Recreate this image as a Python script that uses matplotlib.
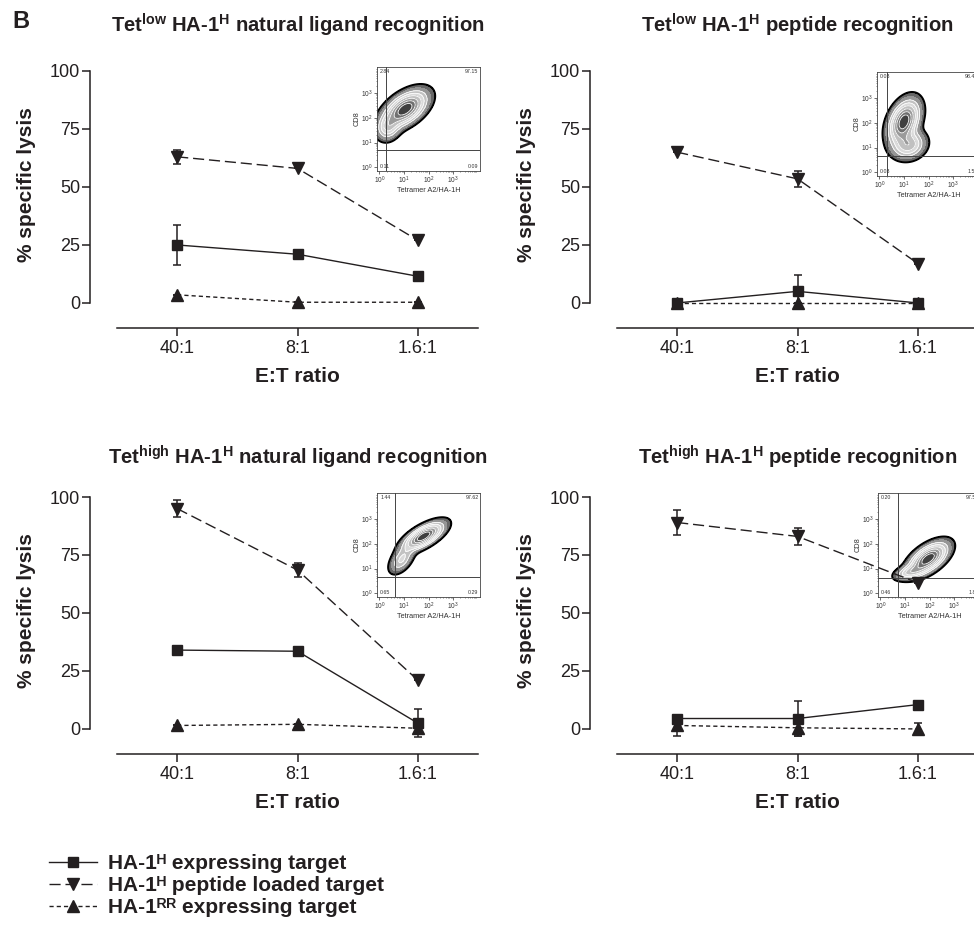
import numpy as np
import matplotlib
matplotlib.use("Agg")
import matplotlib.pyplot as plt
from matplotlib.lines import Line2D

plt.rcParams['font.family'] = ['Liberation Sans', 'DejaVu Sans']
plt.rcParams['mathtext.fontset'] = 'custom'
plt.rcParams['mathtext.rm'] = 'Liberation Sans'
plt.rcParams['mathtext.bf'] = 'Liberation Sans:bold'
plt.rcParams['mathtext.it'] = 'Liberation Sans:italic'
plt.rcParams['lines.scale_dashes'] = False

INK = '#231f20'

# ---- data ----
ratios = ["40:1", "8:1", "1.6:1"]
titles = [r"Tet$^{\mathbf{low}}$ HA-1$^{\mathbf{H}}$ natural ligand recognition",
          r"Tet$^{\mathbf{low}}$ HA-1$^{\mathbf{H}}$ peptide recognition",
          r"Tet$^{\mathbf{high}}$ HA-1$^{\mathbf{H}}$ natural ligand recognition",
          r"Tet$^{\mathbf{high}}$ HA-1$^{\mathbf{H}}$ peptide recognition"]

expr_mean = [[25, 21, 11.5], [0, 5, 0], [34, 33.5, 2.5], [4.5, 4.5, 10.5]]
expr_err = [[8.5, 0, 0], [0, 7, 0], [0, 2, 6], [1.5, 7.5, 0]]
pept_mean = [[63, 58, 27], [65, 53.5, 17], [95, 68.5, 21], [89, 83, 63]]
pept_err = [[3, 0, 0], [0, 3.5, 0], [3.5, 3, 0], [5.5, 3.5, 0]]
rr_mean = [[3.5, 0.3, 0.3], [0, 0, 0], [1.5, 2, 0.3], [1.5, 0.5, 0]]
rr_err = [[0, 0, 0], [0, 0, 0], [0, 0, 0], [4.5, 3.5, 2.7]]

legend_labels = ["HA-1\u1d34 expressing target",
                 "HA-1\u1d34 peptide loaded target",
                 "HA-1\u1d3f\u1d3f expressing target"]

# flow inset: quadrant percentages (UL, UR, LL, LR) and gate positions (log units)
quad_pct = [["2.84", "97.15", "0.11", "0.09"],
            ["0.03", "98.41", "0.03", "1.53"],
            ["1.44", "97.62", "0.65", "0.29"],
            ["0.20", "97.53", "0.46", "1.81"]]
gate_x = [0.27, 0.3, 0.65, 0.72]
gate_y = [0.7, 0.65, 0.65, 0.62]
# population shapes: (cx, cy, major, minor, angle, weight)
blobs = [[(1.05, 2.35, 0.55, 0.3, 35, 1.0), (0.35, 1.6, 0.3, 0.25, 60, 0.35)],
         [(1.0, 2.05, 0.5, 0.3, 65, 1.0), (1.2, 1.1, 0.38, 0.3, 20, 0.5)],
         [(1.8, 2.3, 0.5, 0.2, 30, 1.0), (0.9, 1.35, 0.35, 0.2, 50, 0.3)],
         [(1.95, 1.4, 0.5, 0.25, 35, 1.0), (1.2, 0.85, 0.35, 0.15, 15, 0.35)]]

W, H = 974, 925
PT = 72 / 100  # points per pixel
fig = plt.figure(figsize=(W / 100, H / 100), dpi=100)


def fx(p):
    return p / W


def fy(p):
    return 1 - p / H


styles = [dict(ls='-', marker='s', ms=7.2),
          dict(ls=(0, (8, 3.5)), marker='v', ms=8),
          dict(ls=(0, (3, 2.2)), marker='^', ms=8)]


def draw_panel(ax, i):
    x = np.arange(len(ratios))
    for st, m, e in zip(styles, [expr_mean[i], pept_mean[i], rr_mean[i]],
                        [expr_err[i], pept_err[i], rr_err[i]]):
        ax.errorbar(x, m, yerr=e, fmt='none', ecolor=INK, elinewidth=1.1,
                    capsize=2.7, capthick=1.1, clip_on=False, zorder=3)
        ax.plot(x, m, color=INK, lw=1.0, linestyle=st['ls'], marker=st['marker'],
                ms=st['ms'], mfc=INK, mec=INK, clip_on=False, zorder=4)
    ax.set_xlim(-0.5, 2.5)
    ax.set_ylim(-10.8, 100)
    ax.set_facecolor('none')
    for s in ['top', 'right']:
        ax.spines[s].set_visible(False)
    ax.spines['left'].set_position(('outward', 27 * PT))
    ax.spines['left'].set_bounds(0, 100)
    for s in ['left', 'bottom']:
        ax.spines[s].set_color(INK)
        ax.spines[s].set_linewidth(1.1)
    ax.set_yticks([0, 25, 50, 75, 100])
    ax.set_xticks(x, ratios)
    ax.tick_params(axis='y', length=8 * PT, width=1.1, labelsize=13, pad=2 * PT, colors=INK)
    ax.tick_params(axis='x', length=8 * PT, width=1.1, labelsize=13, pad=4 * PT, colors=INK)
    ax.set_ylabel("% specific lysis", fontsize=15, fontweight='bold', color=INK, va='center')
    ax.yaxis.set_label_coords(-0.25, 0.56)
    ax.set_xlabel("E:T ratio", fontsize=15, fontweight='bold', color=INK)
    ax.xaxis.set_label_coords(0.5, -0.15)


def draw_inset(rect, i):
    ins = fig.add_axes(rect, zorder=1)
    ins.set_facecolor('none')
    gx = np.linspace(-0.1, 4.1, 300)
    gy = np.linspace(-0.15, 4.05, 300)
    X, Y = np.meshgrid(gx, gy)
    Z = np.zeros_like(X)
    for cx, cy, a, b, ang, w in blobs[i]:
        t = np.deg2rad(ang)
        u = (X - cx) * np.cos(t) + (Y - cy) * np.sin(t)
        v = -(X - cx) * np.sin(t) + (Y - cy) * np.cos(t)
        Z += w * np.exp(-0.5 * ((u / a) ** 2 + (v / b) ** 2))
    Z /= Z.max()
    lev = [0.04, 0.055, 0.1, 0.18, 0.28, 0.4, 0.55, 0.7, 0.85, 1.01]
    cols = ['#151515', '#666666', '#959595', '#c2c2c2', '#dadada',
            '#c0c0c0', '#9a9a9a', '#707070', '#404040']
    ins.contourf(X, Y, Z, levels=lev, colors=cols)
    ins.contour(X, Y, Z, levels=lev[3:-1], colors='white', linewidths=0.6)
    ins.contour(X, Y, Z, levels=[0.04], colors='black', linewidths=1.4)
    ins.axvline(gate_x[i], color='#444444', lw=0.7)
    ins.axhline(gate_y[i], color='#444444', lw=0.7)
    ins.set_xlim(-0.1, 4.1)
    ins.set_ylim(-0.15, 4.05)
    dec = [0, 1, 2, 3]
    ins.set_xticks(dec, [r"$10^{%d}$" % d for d in dec])
    ins.set_yticks(dec, [r"$10^{%d}$" % d for d in dec])
    minor = [d + np.log10(k) for d in range(0, 4) for k in range(2, 10)]
    ins.set_xticks(minor, minor=True)
    ins.set_yticks(minor, minor=True)
    ins.tick_params(which='major', length=2, width=0.5, labelsize=4.8, pad=1, colors='#333333')
    ins.tick_params(which='minor', length=1, width=0.4, colors='#333333')
    for s in ins.spines.values():
        s.set_linewidth(0.6)
        s.set_color('#444444')
    ins.set_xlabel("Tetramer A2/HA-1H", fontsize=5.3, labelpad=0.5, color='#333333')
    ins.set_ylabel("CD8", fontsize=5.3, labelpad=0.5, color='#333333')
    ul, ur, ll, lr = quad_pct[i]
    kw = dict(fontsize=3.8, color='#333333', transform=ins.transAxes)
    ins.text(0.03, 0.985, ul, ha='left', va='top', **kw)
    ins.text(0.985, 0.985, ur, ha='right', va='top', **kw)
    ins.text(0.03, 0.02, ll, ha='left', va='bottom', **kw)
    ins.text(0.985, 0.02, lr, ha='right', va='bottom', **kw)


ax_w = 361
ax_h = 257
panel_px = [(117, 71), (617, 71), (117, 497), (617, 497)]
title_y = [25, 25, 457, 457]
inset_px = [(377, 67), (877, 72), (377, 493), (878, 493)]

for i, (px, py) in enumerate(panel_px):
    ax = fig.add_axes([fx(px), fy(py + ax_h), ax_w / W, ax_h / H], zorder=2)
    draw_panel(ax, i)
    fig.text(fx(px + ax_w / 2), fy(title_y[i]), titles[i], ha='center', va='center',
             fontsize=14.6, fontweight='bold', color=INK)
    ix, iy = inset_px[i]
    draw_inset([fx(ix), fy(iy + 104), 103 / W, 104 / H], i)

fig.text(fx(12), fy(21), "B", fontsize=17, fontweight='bold', color=INK, ha='left', va='center')

handles = [Line2D([], [], color=INK, lw=1.0, linestyle=st['ls'], marker=st['marker'],
                  ms=st['ms'], mfc=INK, mec=INK) for st in styles]
fig.legend(handles, legend_labels, loc='upper left', bbox_to_anchor=(fx(49), fy(854)),
           frameon=False, prop={'weight': 'bold', 'size': 15}, handlelength=2.3,
           handletextpad=0.55, labelspacing=0.14, borderpad=0, borderaxespad=0,
           labelcolor=INK)

fig.savefig("out.png", dpi=100)
